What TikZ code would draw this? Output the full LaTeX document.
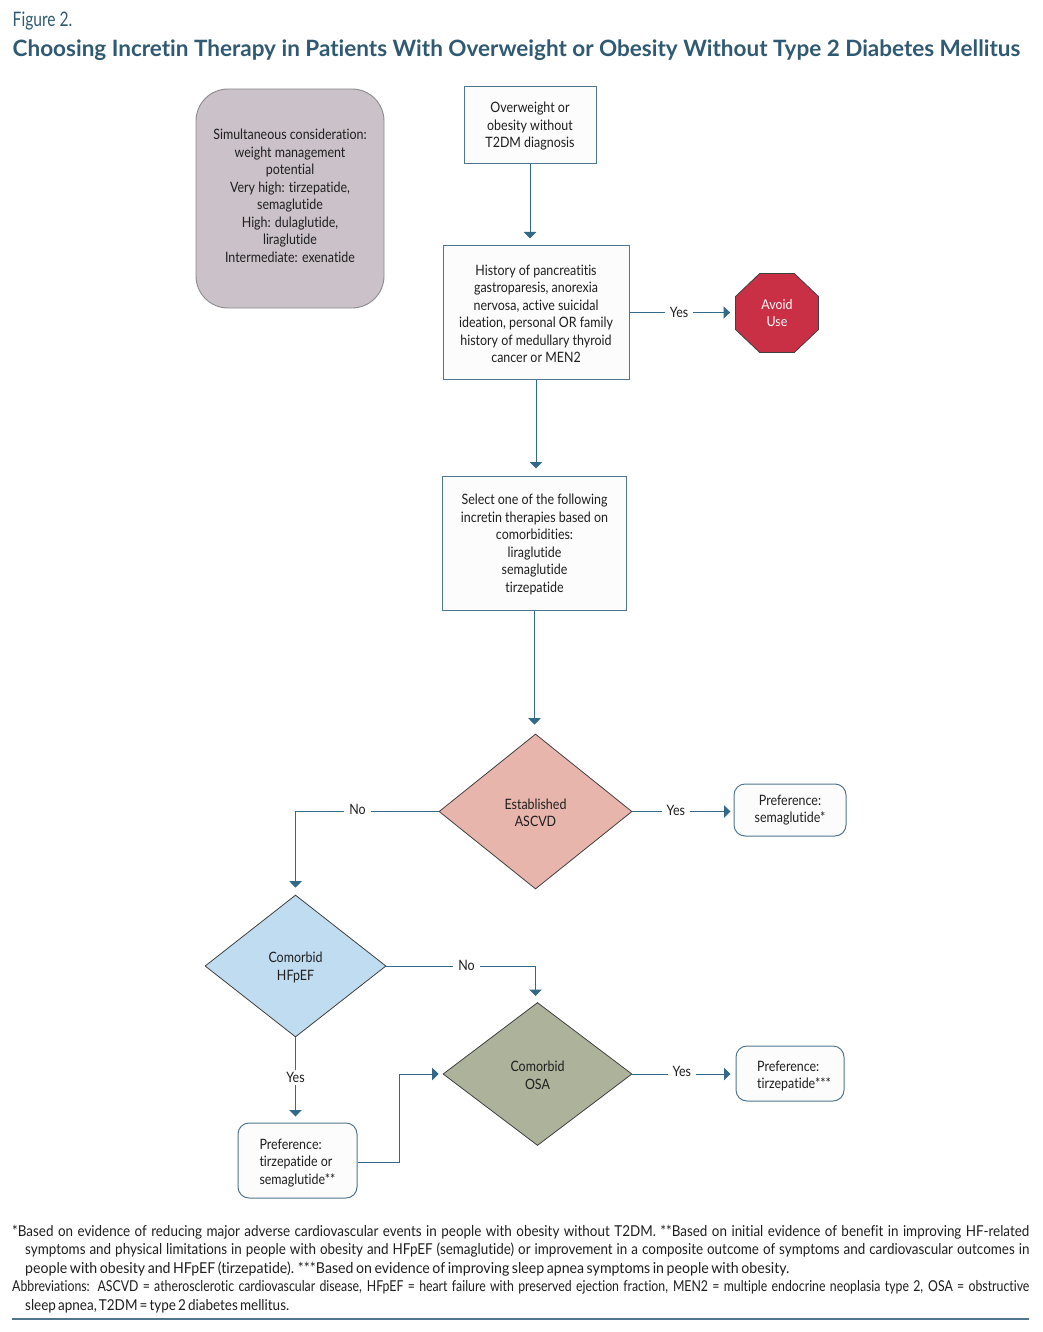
\documentclass[tikz,border=0pt]{standalone}
\usepackage{fontspec}
\setmainfont[Ligatures=NoCommon]{Lato}
\newfontfamily\bodyfont[FakeStretch=0.87,Ligatures=NoCommon]{Lato}
\newfontfamily\figfont[FakeStretch=0.78,Ligatures=NoCommon]{Lato}
\newfontfamily\notefont[FakeStretch=0.895,WordSpace=0.7,Ligatures=NoCommon]{Lato}
\newfontfamily\notewide[FakeStretch=0.943,WordSpace=0.7,Ligatures=NoCommon]{Lato}
\newfontfamily\abbrfont[FakeStretch=0.82,WordSpace=0.6,Ligatures=NoCommon]{Lato}
\newfontfamily\abbrwide[FakeStretch=0.90,WordSpace=0.6,Ligatures=NoCommon]{Lato}
\usetikzlibrary{arrows.meta}
\usetikzlibrary{shapes}
\usetikzlibrary{positioning}
\definecolor{link}{RGB}{50,105,138}
\definecolor{edge}{RGB}{80,118,143}
\definecolor{heading}{RGB}{48,90,115}
\definecolor{ink}{RGB}{30,30,30}
\definecolor{paper}{RGB}{252,252,252}
\definecolor{mauve}{RGB}{203,193,200}
\definecolor{redstop}{RGB}{201,47,69}
\definecolor{salmon}{RGB}{232,181,172}
\definecolor{skyblue}{RGB}{192,220,241}
\definecolor{olive}{RGB}{173,178,155}
\newcommand{\lo}[1][13.5pt]{\rule{0pt}{#1}}

\begin{document}
\begin{tikzpicture}[x=1pt,y=-1pt,>={Triangle[length=6.5pt,width=12.5pt]},
  txt/.style={font=\bodyfont\fontsize{14.3}{17.5}\selectfont,text=ink,align=center,inner sep=0pt},
  box/.style={txt,draw=edge,fill=paper,line width=1pt,minimum width=#1},
  opt/.style={txt,draw=edge,fill=paper,line width=1pt,rounded corners=11pt,minimum width=#1},
  dia/.style={txt,diamond,draw=black!75,line width=0.8pt,fill=#1},
  arr/.style={draw=link,line width=1pt,->,shorten >=7pt},
  lbl/.style={txt,fill=white,inner xsep=5pt,inner ysep=2pt}]
\useasboundingbox (0,0) rectangle (1042,1332);

% heading
\node[anchor=base west,inner sep=0pt,text=heading,font=\figfont\fontsize{20}{22}\selectfont] (fig) at (12.5,27) {Figure 2.};
\node[anchor=base west,inner sep=0pt,text=heading,font=\bfseries\fontsize{22.5}{26}\selectfont] (title) at (12.5,57) {Choosing Incretin Therapy in Patients With Overweight or Obesity Without Type 2 Diabetes Mellitus};

% boxes
\node[txt,draw=black!45,fill=mauve,line width=0.9pt,rounded corners=32pt,minimum width=188pt,minimum height=219pt] (weight) at (290,198.5) {};
\node[txt] (weighttxt) at (290,196) {Simultaneous consideration:\\weight management\\potential\\Very high: tirzepatide,\\semaglutide\\High: dulaglutide,\\liraglutide\\Intermediate: exenatide};
\node[box=132pt,minimum height=77pt] (start) at (530,125.5) {\lo[12pt]Overweight or\\obesity without\\T2DM diagnosis};
\node[box=186pt,minimum height=133pt] (history) at (536,312.5) {\lo History of pancreatitis\\gastroparesis, anorexia\\nervosa, active suicidal\\ideation, personal OR family\\history of medullary thyroid\\cancer or MEN2};
\node[box=184pt,minimum height=134pt] (select) at (534.5,543) {\lo Select one of the following\\incretin therapies based on\\comorbidities:\\liraglutide\\semaglutide\\tirzepatide};
\node[txt,regular polygon,regular polygon sides=8,draw=black!75,line width=0.8pt,fill=redstop,text=white,minimum size=90pt,yscale=.952] (avoid) at (777,313) {Avoid\\Use};

% decisions
\node[dia=salmon,minimum width=193pt,minimum height=155pt] (ascvd) at (535.5,811.5) {\lo Established\\ASCVD};
\node[dia=skyblue,minimum width=181pt,minimum height=142pt] (hfpef) at (295.5,966) {\lo Comorbid\\HFpEF};
\node[dia=olive,minimum width=189pt,minimum height=143pt] (osa) at (537.5,1074) {\lo Comorbid\\OSA};

% preferences
\node[opt=112pt,minimum height=52pt] (prefa) at (790,810) {Preference:\\semaglutide*};
\node[opt=119pt,minimum height=75pt,align=left] (prefb) at (297.5,1160.5) {\lo[15.5pt]Preference:\\tirzepatide or\\semaglutide**};
\node[opt=108pt,minimum height=55pt,align=left] (prefc) at (790,1073.5) {\lo[15.5pt]\hspace*{8pt}Preference:\\\hspace*{8pt}tirzepatide***};

% connectors
\draw[arr] (start.south) -- (start.south |- history.north);
\draw[arr] (history.south) -- (history.south |- select.north);
\draw[arr,shorten >=9pt] (select.south) -- (select.south |- ascvd.north);
\draw[arr,shorten >=5pt] (history.east) -- (history.east -| avoid.west) node[lbl,pos=.47] (yesa) {Yes};
\draw[arr,shorten >=3pt] (ascvd.east) -- (prefa.west |- ascvd.east) node[lbl,pos=.43,yshift=1pt] (yesb) {Yes};
\draw[arr] (ascvd.west) -- (295.5,811.5) -- (hfpef.north) node[lbl,pos=0,xshift=62pt,yshift=2pt] (nob) {No};
\draw[arr] (hfpef.east) -- (535.5,966) -- (535.5,1003) node[lbl,pos=0,xshift=-69pt,yshift=1pt] (noc) {No};
\draw[arr,shorten >=6pt] (hfpef.south) -- (prefb.north -| hfpef.south) node[lbl,pos=.47] (yesc) {Yes};
\draw[arr,shorten >=4pt] ([yshift=-1.5pt]prefb.east) -| (399.5,1074) -- (osa.west);
\draw[arr,shorten >=5pt] (osa.east) -- (prefc.west |- osa.east) node[lbl,pos=.48,yshift=3pt] (yesd) {Yes};

% footnotes
\node[anchor=north west,inner sep=0pt,text width=1017pt,align=justify,text=ink,font=\notefont\fontsize{15}{18.5}\selectfont] (notes) at (12,1224.5) {%
\hangindent=13pt\hangafter=1 *Based on evidence of reducing major adverse cardiovascular events in people with obesity without T2DM. **Based on initial evidence of benefit in improving HF-related\linebreak symptoms and physical limitations in people with obesity and HFpEF (semaglutide) or improvement in a composite outcome of symptoms and cardiovascular outcomes in\linebreak {\notewide people with obesity and HFpEF (tirzepatide). ***Based on evidence of improving sleep apnea symptoms in people with obesity.}\par
\abbrfont\hangindent=13pt\hangafter=1 Abbreviations: ASCVD = atherosclerotic cardiovascular disease, HFpEF = heart failure with preserved ejection fraction, MEN2 = multiple endocrine neoplasia type 2, OSA = obstructive\linebreak {\abbrwide sleep apnea, T2DM = type 2 diabetes mellitus.}\par};
\coordinate (rulea) at (12,1319);
\coordinate (ruleb) at (1029,1319);
\draw[edge,line width=1.4pt] (rulea) -- (ruleb);
\end{tikzpicture}
\end{document}
